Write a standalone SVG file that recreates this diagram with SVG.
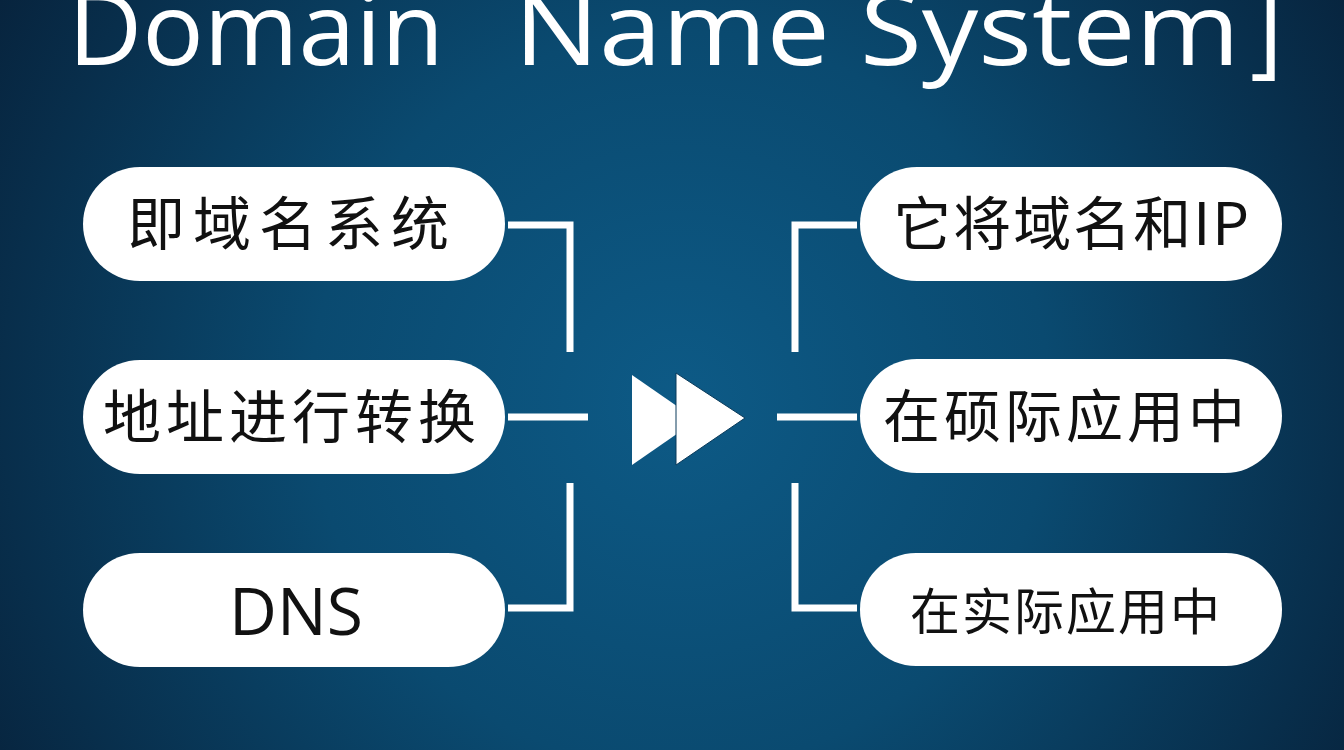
<svg xmlns="http://www.w3.org/2000/svg" width="1344" height="750" viewBox="0 0 1344 750">
<defs>
<radialGradient id="bg" cx="680" cy="400" r="820" gradientUnits="userSpaceOnUse">
<stop offset="0" stop-color="#0d5a86"/>
<stop offset="0.45" stop-color="#0a4a70"/>
<stop offset="1" stop-color="#07213a"/>
</radialGradient>
<style>
.pill{fill:#ffffff;}
.cjk{font-family:"Noto Sans CJK SC","Noto Sans CJK TC",sans-serif;fill:#111111;text-anchor:middle;}
.lat{font-family:"Open Sans","Liberation Sans",sans-serif;fill:#111111;text-anchor:middle;}
.ttl{font-family:"Open Sans","Liberation Sans",sans-serif;font-size:100px;fill:#ffffff;}
.conn{stroke:#ffffff;stroke-width:7;fill:none;stroke-linecap:butt;stroke-linejoin:miter;}
</style>
</defs>
<rect x="0" y="0" width="1344" height="750" fill="url(#bg)"/>
<g id="title">
<text class="ttl" x="68" y="65" textLength="376" lengthAdjust="spacingAndGlyphs">Domain</text>
<text class="ttl" x="514" y="65" textLength="316" lengthAdjust="spacingAndGlyphs">Name</text>
<text class="ttl" x="860" y="65" textLength="380" lengthAdjust="spacingAndGlyphs">System</text>
<text class="ttl" x="1250" y="65">]</text>
</g>

<g id="n1"><rect class="pill" x="83" y="167" width="422" height="114" rx="57"/><text class="cjk" x="292" y="245" font-size="58" letter-spacing="8">即域名系统</text></g>
<g id="n2"><rect class="pill" x="83" y="360" width="422" height="114" rx="57"/><text class="cjk" x="292" y="438" font-size="58" letter-spacing="5">地址进行转换</text></g>
<g id="n3"><rect class="pill" x="83" y="553" width="422" height="114" rx="57"/><text class="lat" x="296" y="635" font-size="66">DNS</text></g>
<g id="n4"><rect class="pill" x="860" y="167" width="422" height="114" rx="57"/><text class="cjk" x="1072" y="245" font-size="58" letter-spacing="2">它将域名和IP</text></g>
<g id="n5"><rect class="pill" x="860" y="359" width="422" height="114" rx="57"/><text class="cjk" x="1066" y="437" font-size="57" letter-spacing="4">在硕际应用中</text></g>
<g id="n6"><rect class="pill" x="860" y="553" width="422" height="113" rx="56"/><text class="cjk" x="1066" y="630" font-size="50" letter-spacing="2">在实际应用中</text></g>

<g id="connectors">
<path class="conn" d="M508 225 H570 V352"/>
<path class="conn" d="M508 417 H588"/>
<path class="conn" d="M570 483 V608 H508"/>
<path class="conn" d="M857 225 H795 V352"/>
<path class="conn" d="M777 417 H857"/>
<path class="conn" d="M795 483 V608 H857"/>
</g>
<g id="arrow">
<polygon points="632,375 632,465 697,420" fill="#ffffff"/>
<polygon points="676,373 676,465 745,418" fill="#ffffff" stroke="#0a3a5a" stroke-width="1"/>
</g>
</svg>
